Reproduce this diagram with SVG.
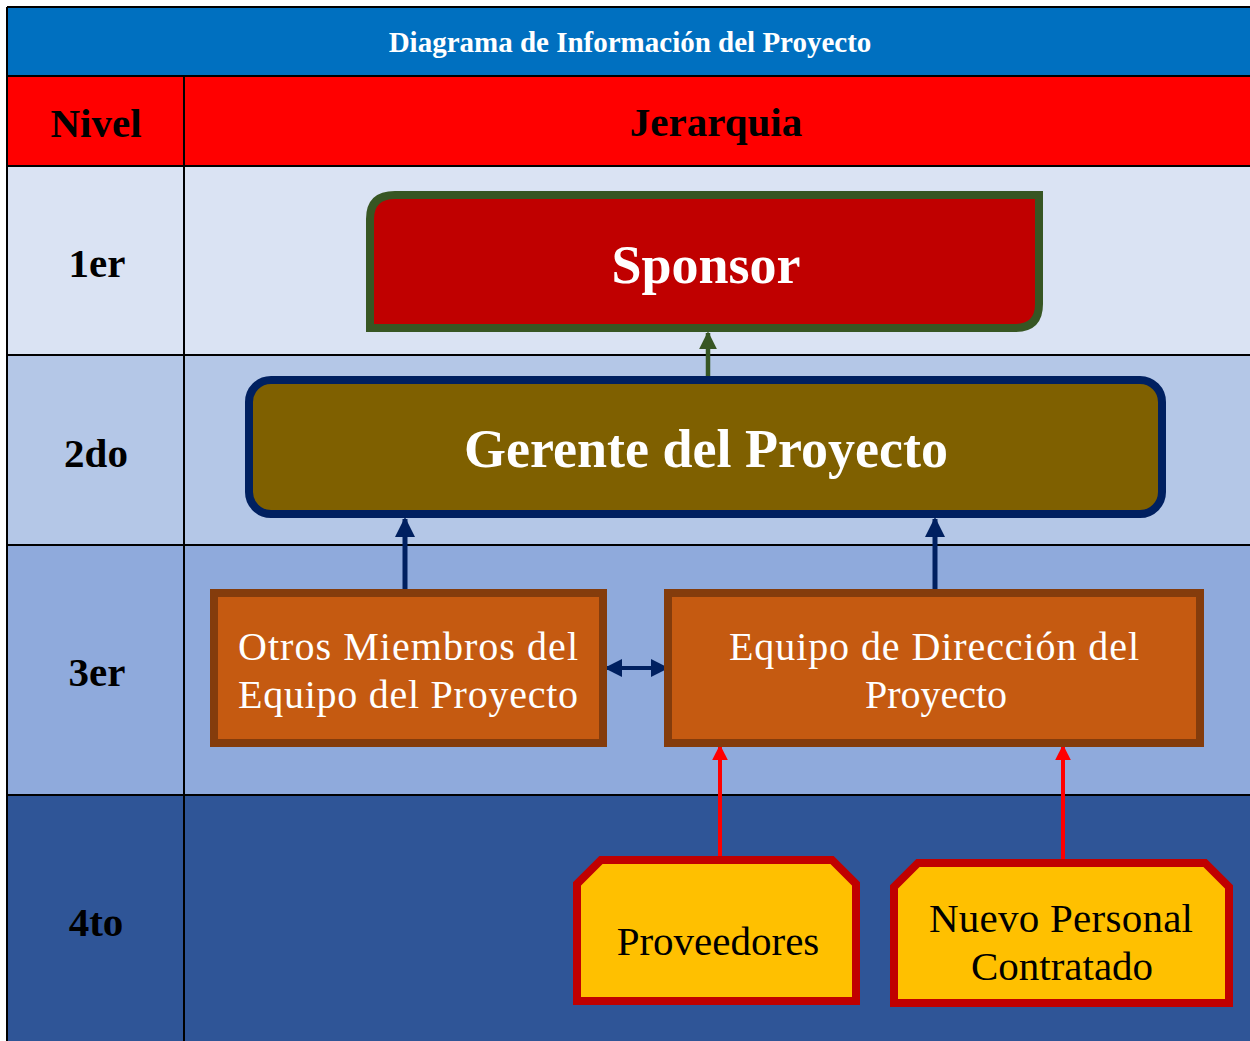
<svg xmlns="http://www.w3.org/2000/svg" width="1250" height="1041" viewBox="0 0 1250 1041">
<style>
.t{font-family:"Liberation Serif","Times New Roman",serif}
.b{font-weight:bold}
.lvl{font-family:"Liberation Serif",serif;font-weight:bold;font-size:41px;fill:#000;text-anchor:middle}
.grid{stroke:#000;stroke-width:2;fill:none}
.nav{stroke:#002060;stroke-width:5;fill:none}
.red{stroke:#FF0000;stroke-width:4;fill:none}
.wt{font-family:"Liberation Serif",serif;font-size:40px;fill:#fff}
.bt{font-family:"Liberation Serif",serif;font-size:41px;fill:#000;text-anchor:middle}
</style>
<defs>
<marker id="hn" viewBox="0 0 10 10" refX="9" refY="5" markerWidth="4" markerHeight="4" orient="auto-start-reverse" markerUnits="strokeWidth"><path d="M0,0 L10,5 L0,10 z" fill="#002060"/></marker>
<marker id="hn2" viewBox="0 0 10 10" refX="9" refY="5" markerWidth="4.5" markerHeight="4.5" orient="auto-start-reverse" markerUnits="strokeWidth"><path d="M0,0 L10,5 L0,10 z" fill="#002060"/></marker>
<marker id="hg" viewBox="0 0 10 10" refX="9" refY="5" markerWidth="4" markerHeight="4" orient="auto" markerUnits="strokeWidth"><path d="M0,0 L10,5 L0,10 z" fill="#375623"/></marker>
<marker id="hr" viewBox="0 0 10 10" refX="9" refY="5" markerWidth="4" markerHeight="4" orient="auto" markerUnits="strokeWidth"><path d="M0,0 L10,5 L0,10 z" fill="#FF0000"/></marker>
</defs>
<rect width="1250" height="1041" fill="#fff"/>
<g id="table">
<rect x="7" y="7" width="1243" height="69" fill="#0070C0"/>
<rect x="7" y="76" width="1243" height="90" fill="#FF0000"/>
<rect x="7" y="166" width="1243" height="189" fill="#DAE3F3"/>
<rect x="7" y="355" width="1243" height="190" fill="#B4C7E7"/>
<rect x="7" y="545" width="1243" height="250" fill="#8FAADC"/>
<rect x="7" y="795" width="1243" height="246" fill="#2F5597"/>
<path class="grid" d="M7,7 H1250 M7,76 H1250 M7,166 H1250 M7,355 H1250 M7,545 H1250 M7,795 H1250 M7,7 V1041 M184,76 V1041"/>
<text x="630" y="52" class="t b" font-size="29" fill="#fff" text-anchor="middle">Diagrama de Información del Proyecto</text>
<text x="96" y="137" class="lvl">Nivel</text>
<text x="716" y="136" class="lvl">Jerarquia</text>
<text x="97" y="277" class="lvl">1er</text>
<text x="96" y="467" class="lvl">2do</text>
<text x="97" y="686" class="lvl">3er</text>
<text x="96" y="936" class="lvl">4to</text>
</g>
<g id="connectors">
<line x1="708" y1="376" x2="708" y2="333" stroke="#375623" stroke-width="4.5" marker-end="url(#hg)"/>
<line class="nav" x1="405" y1="590" x2="405" y2="519" marker-end="url(#hn)"/>
<line class="nav" x1="935" y1="590" x2="935" y2="519" marker-end="url(#hn)"/>
<line x1="606" y1="668" x2="667" y2="668" stroke="#002060" stroke-width="4" marker-start="url(#hn2)" marker-end="url(#hn2)"/>
<line class="red" x1="720" y1="858" x2="720" y2="746" marker-end="url(#hr)"/>
<line class="red" x1="1063" y1="860" x2="1063" y2="746" marker-end="url(#hr)"/>
</g>
<g id="sponsor">
<path d="M395,195 H1039 V304 Q1039,328 1015,328 H370 V219 Q370,195 395,195 Z" fill="#C00000" stroke="#375623" stroke-width="8"/>
<text x="706" y="283" class="t b" font-size="54" fill="#fff" text-anchor="middle">Sponsor</text>
</g>
<g id="gerente">
<rect x="249" y="380" width="913" height="134" rx="22" fill="#7F6000" stroke="#002060" stroke-width="8"/>
<text x="706" y="467" class="t b" font-size="54" fill="#fff" text-anchor="middle">Gerente del Proyecto</text>
</g>
<g id="otros">
<rect x="214" y="593" width="389" height="150" fill="#C55A11" stroke="#843C0C" stroke-width="8"/>
<text x="238" y="660" class="wt" textLength="340" lengthAdjust="spacing">Otros Miembros del</text>
<text x="238" y="708" class="wt" textLength="340" lengthAdjust="spacing">Equipo del Proyecto</text>
</g>
<g id="equipo">
<rect x="668" y="593" width="532" height="150" fill="#C55A11" stroke="#843C0C" stroke-width="8"/>
<text x="934" y="660" class="wt" text-anchor="middle" textLength="410" lengthAdjust="spacing">Equipo de Dirección del</text>
<text x="936" y="708" class="wt" text-anchor="middle">Proyecto</text>
</g>
<g id="proveedores">
<path d="M601,860 H832 L856,884 V1001 H577 V884 Z" fill="#FFC000" stroke="#C00000" stroke-width="8"/>
<text x="718" y="955" class="bt">Proveedores</text>
</g>
<g id="nuevo">
<path d="M918,863 H1205 L1229,887 V1003 H894 V887 Z" fill="#FFC000" stroke="#C00000" stroke-width="8"/>
<text x="1061" y="932" class="bt" textLength="264" lengthAdjust="spacing">Nuevo Personal</text>
<text x="1062" y="980" class="bt">Contratado</text>
</g>
</svg>
